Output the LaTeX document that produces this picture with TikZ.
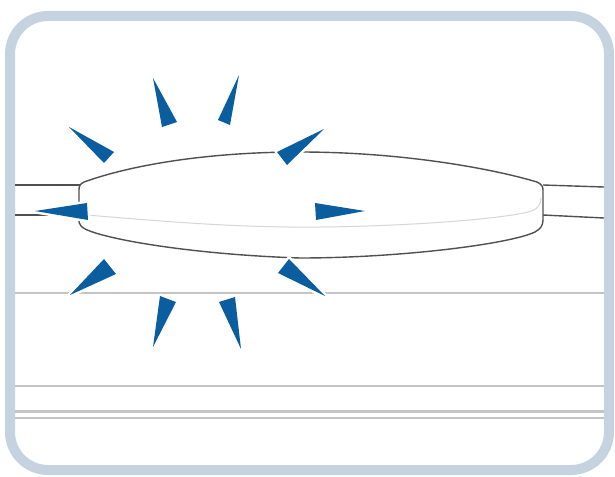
\documentclass[tikz,border=0pt]{standalone}
\usepackage{tikz}
\definecolor{framegrey}{RGB}{197,210,224}
\definecolor{sparkblue}{RGB}{10,94,160}
\definecolor{rulegrey}{RGB}{196,196,196}
\definecolor{cablegrey}{RGB}{80,80,80}
\definecolor{seamgrey}{RGB}{214,214,214}
\tikzset{
  frame/.style={draw=framegrey, line width=10pt, rounded corners=38pt},
  rule/.style={draw=rulegrey, line width=1.3pt},
  heavyrule/.style={draw=rulegrey, line width=3pt},
  cable/.style={draw=cablegrey, line width=1.4pt},
  seam/.style={draw=seamgrey, line width=1pt},
  spark/.style={
    fill=sparkblue,
    preaction={draw=white, line width=5pt, line join=round}
  }
}

\begin{document}
\begin{tikzpicture}[x=1pt, y=-1pt]
  \useasboundingbox (0,0) rectangle (615,476);
  \fill[white] (0,0) rectangle (615,476);

  % panel outline
  \draw[frame] (10,16) rectangle (609,470);

  % ruled lines across the panel
  \draw[rule] (15,293) -- (604,293);
  \draw[rule] (15,386) -- (604,386);
  \draw[heavyrule] (15,411) -- (604,411);
  \draw[rule] (15,418) -- (604,418);

  % cable on both sides
  \draw[cable] (15,185) -- (80,185);
  \draw[cable] (15,215) -- (80,215);
  \draw[cable] (543,185) -- (604,187);
  \draw[cable] (543,215) -- (604,218);

  % swollen part
  \draw[seam] (86,215) .. controls (150,220) and (230,228) .. (320,227)
    .. controls (420,226) and (505,218) .. (528,212)
    .. controls (537,210) and (541,205) .. (541,198);
  \draw[cable, fill=none] (79,190) .. controls (79,186) and (80,184) .. (84,182)
    .. controls (140,162) and (220,152) .. (300,152)
    .. controls (400,152) and (490,168) .. (537,182)
    .. controls (541,184) and (543,186) .. (543,190)
    -- (543,220)
    .. controls (543,226) and (540,229) .. (535,232)
    .. controls (510,244) and (400,258) .. (300,258)
    .. controls (180,254) and (88,236) .. (81,226)
    .. controls (79,224) and (79,222) .. (79,218) -- cycle;

  % sparks around the swelling
  \foreach \ax/\ay/\bx/\by/\cx/\cy in {
      153/78/162/127/177/122,
      239/75/218/120/230/125,
      69/127/104/163/114/152,
      324/129/277/152/287/165,
      35/211/87/203/88/220,
      365/211/315/203/316/220,
      70/295/104/259/116/274,
      325/296/278/273/289/259,
      153/347/160/296/176/302,
      241/349/219/302/235/297}
    \fill[spark] (\ax,\ay) -- (\bx,\by) -- (\cx,\cy) -- cycle;
\end{tikzpicture}
\end{document}
